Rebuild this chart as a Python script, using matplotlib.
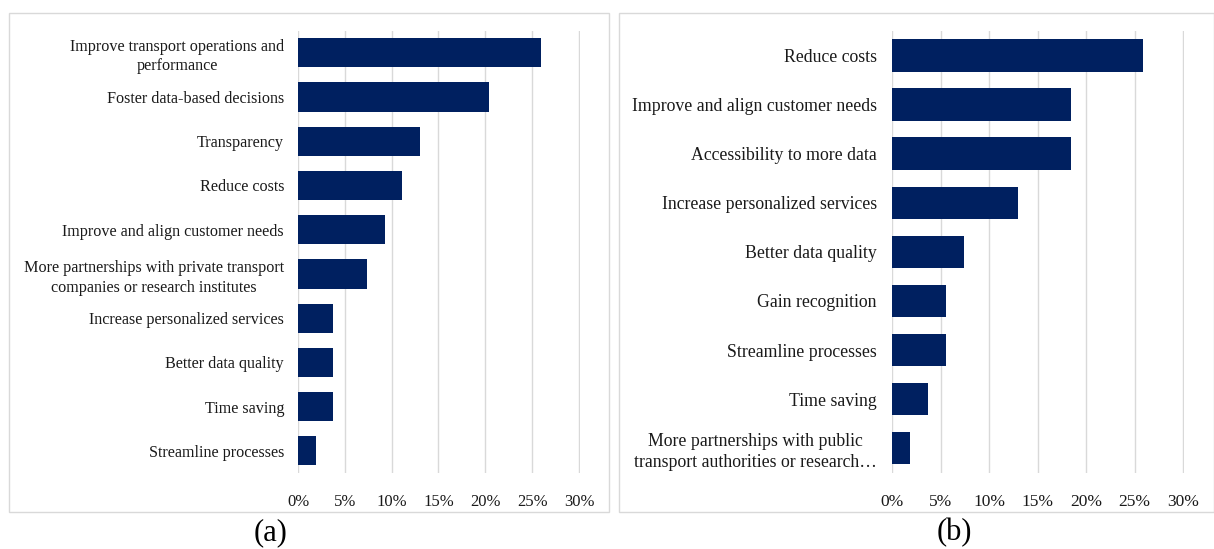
import matplotlib.pyplot as plt
import numpy as np
from matplotlib.patches import Rectangle
from matplotlib.ticker import PercentFormatter

plt.rcParams['font.family'] = ['Liberation Serif', 'DejaVu Serif']

# (a) share of respondents per benefit, top to bottom
labels_a = [
    "Improve transport operations and\nperformance",
    "Foster data-based decisions",
    "Transparency",
    "Reduce costs",
    "Improve and align customer needs",
    "More partnerships with private transport\ncompanies or research institutes",
    "Increase personalized services",
    "Better data quality",
    "Time saving",
    "Streamline processes",
]
values_a = [25.9, 20.4, 13.0, 11.1, 9.3, 7.4, 3.7, 3.7, 3.7, 1.9]

# (b)
labels_b = [
    "Reduce costs",
    "Improve and align customer needs",
    "Accessibility to more data",
    "Increase personalized services",
    "Better data quality",
    "Gain recognition",
    "Streamline processes",
    "Time saving",
    "More partnerships with public\ntransport authorities or research\u2026",
]
values_b = [25.9, 18.5, 18.5, 13.0, 7.4, 5.6, 5.6, 3.7, 1.9]

xticks = [0, 5, 10, 15, 20, 25, 30]

W, H = 1214, 549
fig = plt.figure(figsize=(W / 100, H / 100), dpi=100)
BAR = '#002060'
GRID = '#d9d9d9'
TXT = '#1a1a1a'


def px_axes(x0, x1, y0, y1):
    # pixel box (top-left origin) -> figure fraction
    return fig.add_axes([x0 / W, 1 - y1 / H, (x1 - x0) / W, (y1 - y0) / H])


def draw(ax, labels, values, ypad, lsize, tsize):
    pos = np.arange(len(labels))
    ax.barh(pos, values, height=0.66, color=BAR, zorder=3)
    ax.set_xlim(0, 30.1)
    ax.set_ylim(len(labels) - 0.5, -0.5)
    ax.set_xticks(xticks)
    ax.xaxis.set_major_formatter(PercentFormatter(decimals=0))
    ax.set_yticks(pos)
    ax.set_yticklabels(labels, multialignment='center', linespacing=1.3)
    ax.grid(axis='x', color=GRID, lw=1, zorder=0)
    for s in ax.spines.values():
        s.set_visible(False)
    ax.tick_params(axis='x', length=0, pad=15, labelsize=tsize, labelcolor=TXT)
    ax.tick_params(axis='y', length=0, pad=ypad, labelsize=lsize, labelcolor=TXT)


ax_a = px_axes(298, 579 + 281 * 0.1 / 30, 30.6, 473)
draw(ax_a, labels_a, values_a, 10, 11.6, 12)
ax_b = px_axes(892, 1183 + 291 * 0.1 / 30, 31, 472.7)
draw(ax_b, labels_b, values_b, 11, 12.8, 12.5)

# panel frames
for x0, x1, y0, y1 in [(8.5, 608.5, 12.7, 512), (618.5, 1213.5, 13.3, 512.3)]:
    fig.patches.append(Rectangle((x0 / W, 1 - y1 / H), (x1 - x0) / W, (y1 - y0) / H,
                                 transform=fig.transFigure, fill=False,
                                 edgecolor=GRID, lw=1))

fig.text(271 / W, 1 - 533 / H, "(a)", ha='center', va='center', fontsize=22, color='black')
fig.text(954 / W, 1 - 533 / H, "(b)", ha='center', va='center', fontsize=22, color='black')

fig.savefig('out.png', dpi=100, facecolor='white')
